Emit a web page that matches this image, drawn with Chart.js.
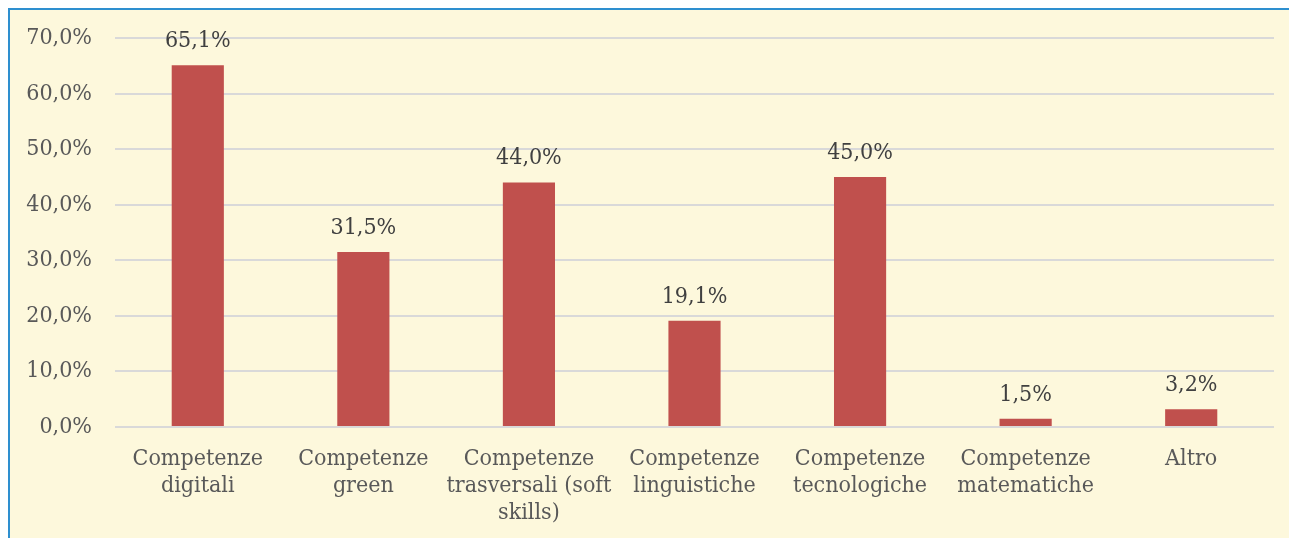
<!DOCTYPE html>
<html>
<head>
<meta charset="utf-8">
<script src="https://cdn.jsdelivr.net/npm/chart.js@4"></script>
<style>
  body { margin: 0; background: #fff; }
  #box {
    position: absolute; left: 8px; top: 8px; width: 1281px; height: 530px;
    border-top: 2px solid #2E8FCF; border-left: 2px solid #2E8FCF;
    background: #FDF8DC; box-sizing: border-box;
  }
  canvas { display: block; }
</style>
</head>
<body>
<div id="box"><canvas id="chart" width="1279" height="528"></canvas></div>
<script>
const categories = [
    ['Competenze', 'digitali'],
    ['Competenze', 'green'],
    ['Competenze', 'trasversali (soft', 'skills)'],
    ['Competenze', 'linguistiche'],
    ['Competenze', 'tecnologiche'],
    ['Competenze', 'matematiche'],
    'Altro'
];
const values = [65.1, 31.5, 44.0, 19.1, 45.0, 1.5, 3.2];
const yTicks = [0, 10, 20, 30, 40, 50, 60, 70];

const FONT = '"DejaVu Serif Condensed", "DejaVu Serif", serif';
const fmt = v => v.toFixed(1).replace('.', ',') + '%';

// etichette sopra le barre
const valueLabels = {
    id: 'valueLabels',
    afterDatasetsDraw(chart) {
        const ctx = chart.ctx;
        const meta = chart.getDatasetMeta(0);
        ctx.save();
        ctx.font = '23px ' + FONT;
        ctx.fillStyle = '#404040';
        ctx.textAlign = 'center';
        ctx.textBaseline = 'middle';
        meta.data.forEach((bar, i) => {
            ctx.fillText(fmt(values[i]), bar.x, bar.y - 24);
        });
        ctx.restore();
    }
};

new Chart(document.getElementById('chart').getContext('2d'), {
    type: 'bar',
    data: {
        labels: categories,
        datasets: [{
            data: values,
            backgroundColor: '#C0504D',
            borderWidth: 0,
            categoryPercentage: 1,
            barPercentage: 0.315
        }]
    },
    options: {
        responsive: false,
        animation: false,
        layout: { padding: { top: 28, right: 15, left: 0, bottom: 0 } },
        plugins: {
            legend: { display: false },
            tooltip: { enabled: false }
        },
        scales: {
            x: {
                grid: { display: false, drawTicks: false },
                border: { display: false },
                afterFit: axis => {
                    axis.height = 111;
                    axis.paddingLeft = 0;
                    axis.paddingRight = 0;
                },
                ticks: {
                    padding: 19,
                    color: '#595959',
                    maxRotation: 0,
                    autoSkip: false,
                    font: { family: FONT, size: 23, lineHeight: 1.17 }
                }
            },
            y: {
                min: 0,
                max: 70,
                afterFit: axis => {
                    axis.width = 105;
                    axis.paddingTop = 0;
                    axis.paddingBottom = 0;
                },
                afterBuildTicks: axis => { axis.ticks = yTicks.map(v => ({ value: v })); },
                grid: { color: '#D9D9D9', lineWidth: 2, drawTicks: false },
                border: { display: false },
                ticks: {
                    padding: 23,
                    color: '#595959',
                    font: { family: FONT, size: 23 },
                    callback: v => fmt(v)
                }
            }
        }
    },
    plugins: [valueLabels]
});
</script>
</body>
</html>
